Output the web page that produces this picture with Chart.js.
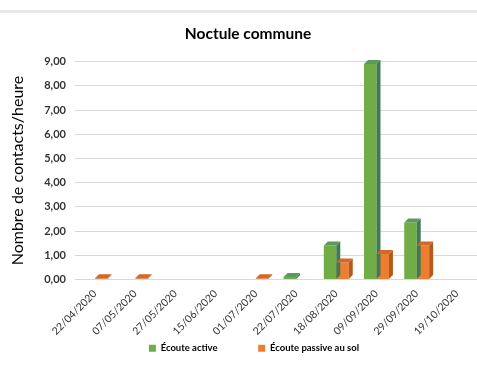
<!DOCTYPE html>
<html>
<head>
<meta charset="utf-8">
<script src="https://cdn.jsdelivr.net/npm/chart.js@4"></script>
<style>
  html, body { margin: 0; padding: 0; background: #fff; }
  #wrap { width: 477px; height: 376px; }
</style>
</head>
<body>
<div id="wrap"><canvas id="c" width="477" height="376"></canvas></div>
<script>
const dates = ["22/04/2020", "07/05/2020", "27/05/2020", "15/06/2020", "01/07/2020",
  "22/07/2020", "18/08/2020", "09/09/2020", "29/09/2020", "19/10/2020"];
const ecouteActive = [0, 0, 0, 0, 0, 0.1, 1.4, 8.9, 2.35, 0];
const ecoutePassive = [0.05, 0.05, 0, 0, 0.05, 0, 0.7, 1.05, 1.4, 0];
const yTicks = [0, 1, 2, 3, 4, 5, 6, 7, 8, 9];

// couleurs des faces (avant / côté / dessus)
const faces = [
  { front: "#70ad47", side: "#3f7a50", top: "#5c9a5c" },
  { front: "#ed7d31", side: "#b45a1c", top: "#d0692a" }
];

// pseudo 3D : on ajoute un côté et un dessus à chaque barre
const depth3d = {
  id: "depth3d",
  beforeDraw(chart) {
    const ctx = chart.ctx;
    ctx.save();
    ctx.fillStyle = "#e8e8e8";
    ctx.fillRect(0, 10, chart.width, 3);
    ctx.restore();
  },
  afterDatasetsDraw(chart) {
    const ctx = chart.ctx;
    const d = 4;
    chart.data.datasets.forEach((ds, i) => {
      const meta = chart.getDatasetMeta(i);
      meta.data.forEach((bar, j) => {
        if (!ds.data[j]) return;
        const w = bar.width, x0 = bar.x - w / 2, x1 = bar.x + w / 2;
        const y = bar.y, b = bar.base;
        ctx.save();
        ctx.fillStyle = faces[i].side;
        ctx.beginPath();
        ctx.moveTo(x1, y); ctx.lineTo(x1 + d, y - d);
        ctx.lineTo(x1 + d, b - d); ctx.lineTo(x1, b);
        ctx.closePath(); ctx.fill();
        ctx.fillStyle = faces[i].top;
        ctx.beginPath();
        ctx.moveTo(x0, y); ctx.lineTo(x0 + d, y - d);
        ctx.lineTo(x1 + d, y - d); ctx.lineTo(x1, y);
        ctx.closePath(); ctx.fill();
        ctx.restore();
      });
    });
  }
};

new Chart(document.getElementById("c"), {
  type: "bar",
  data: {
    labels: dates,
    datasets: [
      { label: "Écoute active", data: ecouteActive, backgroundColor: faces[0].front },
      { label: "Écoute passive au sol", data: ecoutePassive, backgroundColor: faces[1].front }
    ]
  },
  options: {
    responsive: false,
    animation: false,
    layout: { padding: { top: 4, right: 0, left: 4, bottom: 13 } },
    datasets: { bar: { categoryPercentage: 0.62, barPercentage: 1 } },
    plugins: {
      title: {
        display: true,
        text: "\u00a0\u00a0\u00a0\u00a0Noctule commune",
        color: "#000",
        font: { family: "Lato", size: 15.5, weight: "bold" },
        padding: { top: 21, bottom: 18 }
      },
      legend: {
        position: "bottom",
        labels: {
          boxWidth: 7, boxHeight: 7, padding: 6,
          color: "#000",
          font: { family: "Lato", size: 9.5, weight: "bold" },
          generateLabels(chart) {
            const items = Chart.defaults.plugins.legend.labels.generateLabels(chart);
            items[0].text += "\u00a0".repeat(15);
            // élément vide pour recentrer la légende comme dans l'original
            items.unshift({ text: "\u00a0".repeat(4), fillStyle: "rgba(0,0,0,0)", strokeStyle: "rgba(0,0,0,0)", lineWidth: 0, hidden: false });
            return items;
          }
        }
      },
      tooltip: { enabled: false }
    },
    scales: {
      x: {
        grid: { display: false },
        border: { display: false },
        ticks: {
          minRotation: 45, maxRotation: 45, padding: 0,
          color: "#333",
          font: { family: "Lato", size: 10.5 }
        }
      },
      y: {
        min: 0, max: 9,
        afterBuildTicks(axis) { axis.ticks = yTicks.map(v => ({ value: v })); },
        grid: { color: "#d9d9d9", lineWidth: 1, drawTicks: false },
        border: { display: false },
        ticks: {
          padding: 9,
          color: "#333",
          font: { family: "Lato", size: 11, weight: "bold" },
          callback: v => v.toFixed(2).replace(".", ",")
        },
        title: {
          display: true,
          text: "Nombre de contacts/heure",
          color: "#000",
          font: { family: "Lato", size: 16 },
          padding: { bottom: 8 }
        }
      }
    }
  },
  plugins: [depth3d]
});
</script>
</body>
</html>
